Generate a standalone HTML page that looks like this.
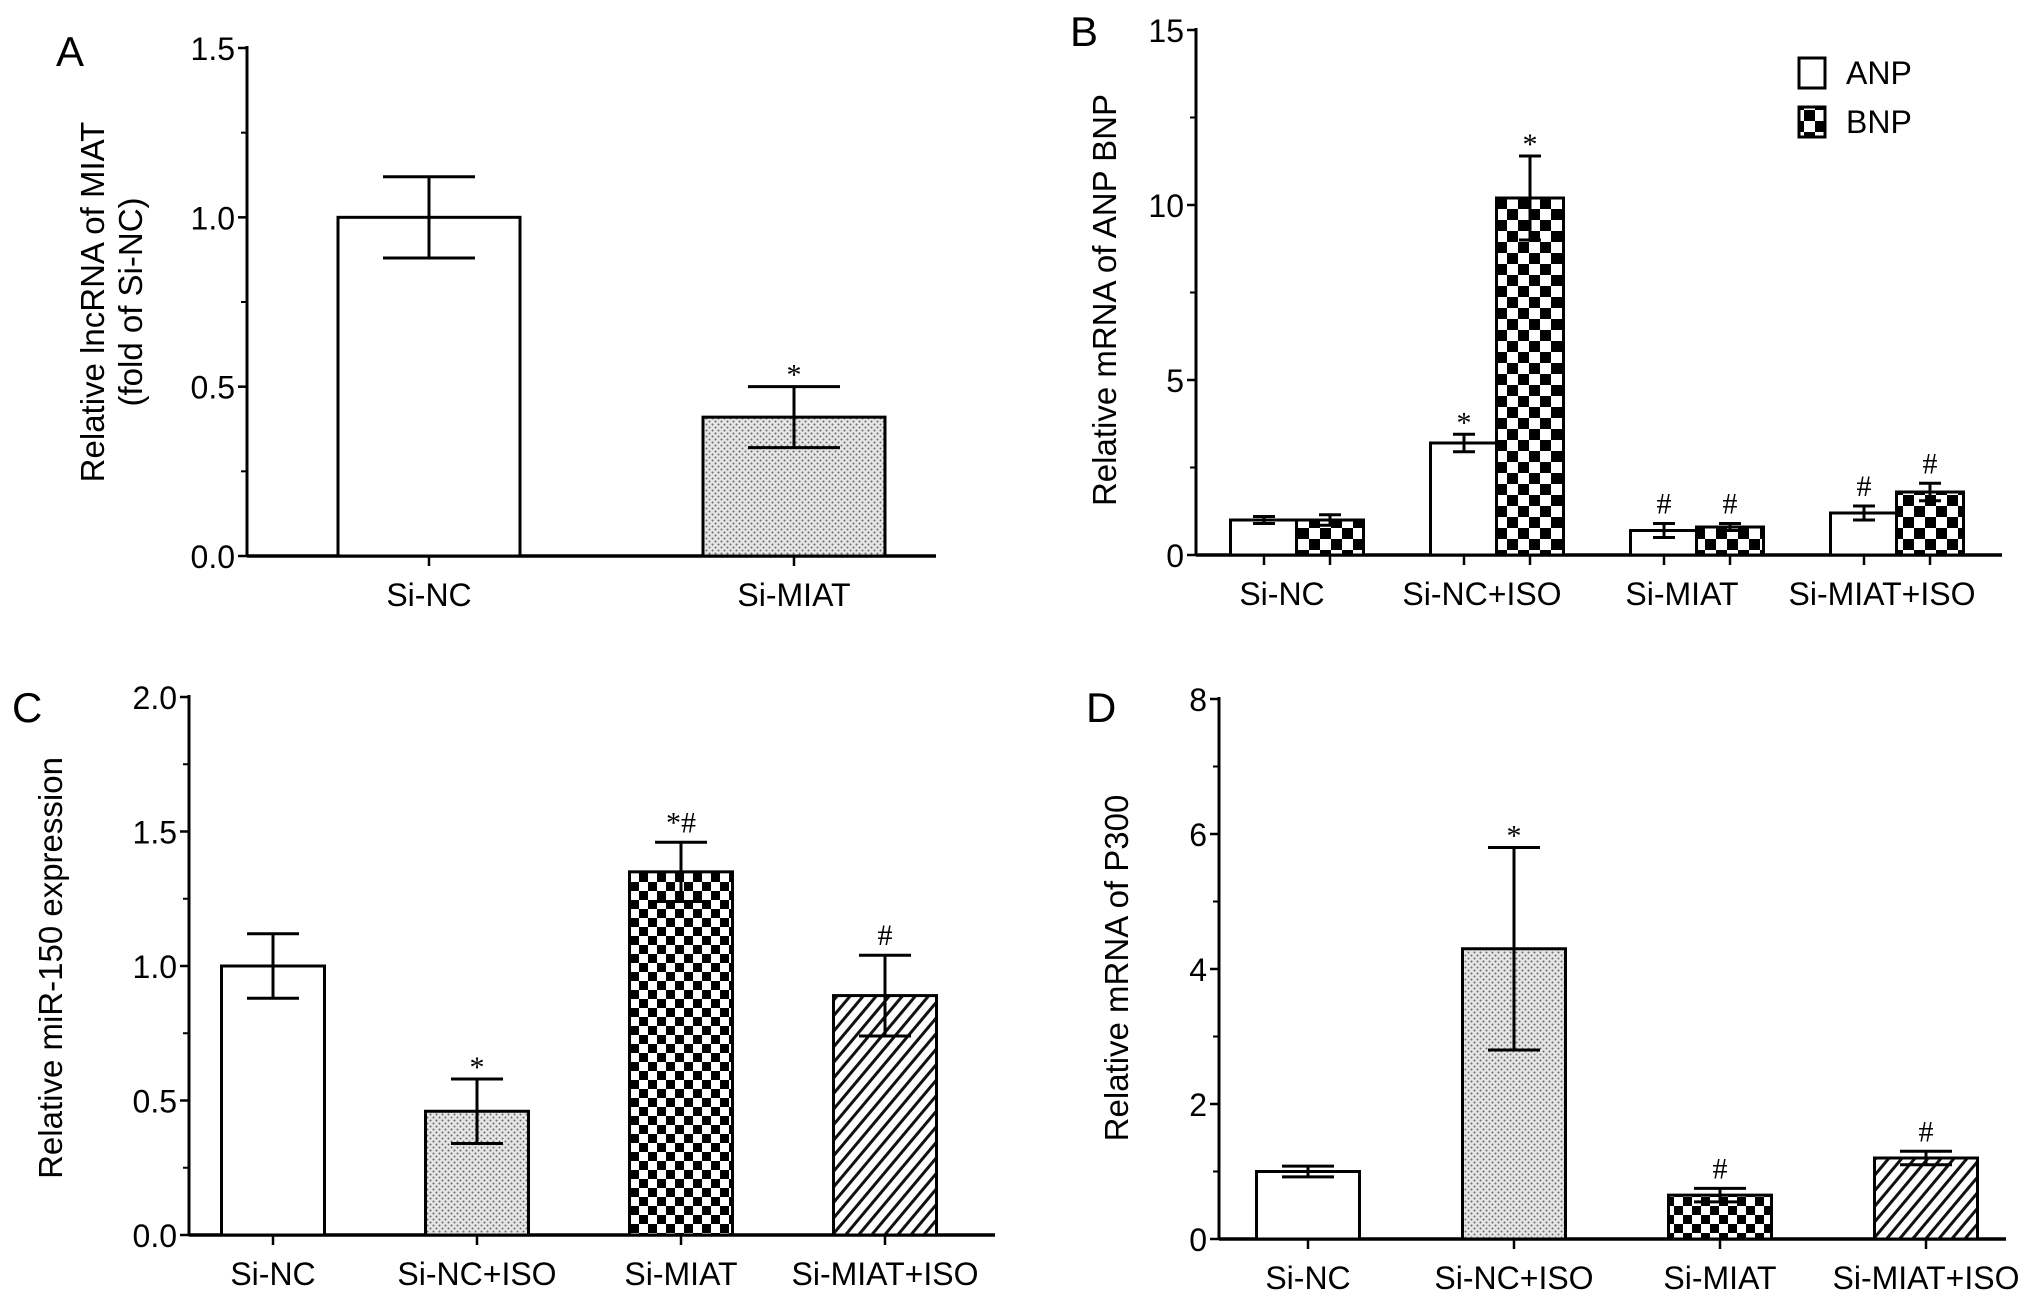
<!DOCTYPE html>
<html><head><meta charset="utf-8"><style>
html,body{margin:0;padding:0;background:#fff;}
svg{display:block;font-family:"Liberation Sans",Arial,sans-serif;}
</style></head><body>
<svg id="fig" width="2032" height="1296" viewBox="0 0 2032 1296" xmlns="http://www.w3.org/2000/svg">
<defs>
<pattern id="dots" width="6" height="6" patternUnits="userSpaceOnUse"><rect width="6" height="6" fill="#e6e6e6"/><circle cx="1.5" cy="1.5" r="1" fill="#666"/><circle cx="4.5" cy="4.5" r="1" fill="#666"/></pattern>
<pattern id="checkB" width="22" height="22" patternUnits="userSpaceOnUse"><rect width="22" height="22" fill="#fff"/><rect width="11" height="11" fill="#000"/><rect x="11" y="11" width="11" height="11" fill="#000"/></pattern>
<pattern id="checkC" width="18" height="18" patternUnits="userSpaceOnUse"><rect width="18" height="18" fill="#fff"/><rect width="9" height="9" fill="#000"/><rect x="9" y="9" width="9" height="9" fill="#000"/></pattern>
<pattern id="hatch" width="10" height="10" patternUnits="userSpaceOnUse" patternTransform="rotate(40)"><rect width="10" height="10" fill="#fff"/><rect width="3" height="10" fill="#111"/></pattern>
</defs>
<g id="root"></g>
</svg>
<script>
// Panel A
const catsA = ["Si-NC","Si-MIAT"];
const valsA = [1.0, 0.41];
const errA = [0.12, 0.09];
const annA = ["", "*"];
const ticksA = ["0.0","0.5","1.0","1.5"];
// Panel B
const catsB = ["Si-NC","Si-NC+ISO","Si-MIAT","Si-MIAT+ISO"];
const anpB = [1.0, 3.2, 0.7, 1.2];
const anpErrB = [0.1, 0.25, 0.2, 0.2];
const anpAnnB = ["", "*", "#", "#"];
const bnpB = [1.0, 10.2, 0.8, 1.8];
const bnpErrB = [0.15, 1.2, 0.1, 0.25];
const bnpAnnB = ["", "*", "#", "#"];
const ticksB = ["0","5","10","15"];
// Panel C
const catsC = ["Si-NC","Si-NC+ISO","Si-MIAT","Si-MIAT+ISO"];
const valsC = [1.0, 0.46, 1.35, 0.89];
const errC = [0.12, 0.12, 0.11, 0.15];
const annC = ["", "*", "*#", "#"];
const ticksC = ["0.0","0.5","1.0","1.5","2.0"];
// Panel D
const catsD = ["Si-NC","Si-NC+ISO","Si-MIAT","Si-MIAT+ISO"];
const valsD = [1.0, 4.3, 0.65, 1.2];
const errD = [0.08, 1.5, 0.1, 0.1];
const annD = ["", "*", "#", "#"];
const ticksD = ["0","2","4","6","8"];

const NS="http://www.w3.org/2000/svg";
const root=document.getElementById('root');
function mk(tag,attrs,parent,text){const e=document.createElementNS(NS,tag);for(const k in attrs)e.setAttribute(k,attrs[k]);if(text!==undefined)e.textContent=text;(parent||root).appendChild(e);return e;}

function panel(o){
  const g=mk('g',{});
  
  
  const ymax=parseFloat(o.ticks[o.ticks.length-1]);
  const Y=v=>o.y0-(v/ymax)*(o.y0-o.y1);
  const X=i=>o.xs+o.step*i;
  const L=mk('text',{x:o.lx,y:o.ly,'font-size':42},g,o.id);
  
  
  const ya=mk('line',{x1:o.ax,y1:o.y1-2,x2:o.ax,y2:o.y0,stroke:'#000','stroke-width':3},g);
  
  
  const xa=mk('line',{x1:o.ax,y1:o.y0,x2:o.axEnd,y2:o.y0,stroke:'#000','stroke-width':3.5},g);
  
  
  o.ticks.forEach((t,i)=>{
    const v=parseFloat(t),y=Y(v);
    mk('line',{x1:o.ax-9,y1:y,x2:o.ax,y2:y,stroke:'#000','stroke-width':2.5},g);
    const tl=mk('text',{x:o.ax-12,y:y+12,'font-size':32,'text-anchor':'end'},g,t);
    
    
    if(i<o.ticks.length-1){const m=(v+parseFloat(o.ticks[i+1]))/2;mk('line',{x1:o.ax-6,y1:Y(m),x2:o.ax,y2:Y(m),stroke:'#000','stroke-width':2},g);}
  });
  const yt=mk('text',{x:0,y:0,'font-size':33,'text-anchor':'middle',transform:`translate(${o.ytx},${o.yty}) rotate(-90)`},g);
  
  
  o.ytitle.forEach((s,i)=>{mk('tspan',{x:0,dy:i?38:0},yt,s);});
  o.cats.forEach((c,i)=>{
    const cl=mk('text',{x:X(i)+(o.lo||0),y:o.y0+50,'font-size':32,'text-anchor':'middle'},g,c);
    
    
  });
  o.series.forEach(s=>{
    s.vals.forEach((v,i)=>{
      const cx=X(i)+s.off, x=cx-o.bw/2, y=Y(v);
      const b=mk('rect',{x:x,y:y,width:o.bw,height:o.y0-y,fill:s.fills[i],stroke:'#000','stroke-width':3},g);
      
      
      mk('line',{x1:cx,y1:o.y0,x2:cx,y2:o.y0+10,stroke:'#000','stroke-width':2.5},g);
      const e=s.err[i], yt2=Y(v+e), yb=Y(v-e), cw=o.cap;
      const eb=mk('path',{d:`M${cx},${yt2}V${yb}M${cx-cw},${yt2}H${cx+cw}M${cx-cw},${yb}H${cx+cw}`,stroke:'#000','stroke-width':3,fill:'none'},g);
      
      
      if(s.ann[i]){
        const an=mk('text',{x:cx,y:s.ann[i]=='*'?yt2-2:yt2-10,'font-size':30,'text-anchor':'middle','font-family':'"Liberation Serif",serif'},g,s.ann[i]);
        
        
      }
    });
  });
}

panel({id:'A',lx:56,ly:66,ax:247,axEnd:936,y0:556,y1:48,ticks:ticksA,cats:catsA,xs:429,step:365,bw:182,cap:46,
  ytx:104,yty:302,ytitle:["Relative lncRNA of MIAT","(fold of Si-NC)"],
  series:[{vals:valsA,err:errA,ann:annA,off:0,fills:['#fff','url(#dots)']}]});
panel({id:'B',lx:1070,ly:46,ax:1196,axEnd:2002,y0:555,y1:30,ticks:ticksB,cats:catsB,xs:1297,step:200,bw:67,cap:11,lo:-15,
  ytx:1116,yty:300,ytitle:["Relative mRNA of ANP BNP"],
  series:[{name:'anp',vals:anpB,err:anpErrB,ann:anpAnnB,off:-33,fills:['#fff','#fff','#fff','#fff']},
          {name:'bnp',vals:bnpB,err:bnpErrB,ann:bnpAnnB,off:33,fills:['url(#checkB)','url(#checkB)','url(#checkB)','url(#checkB)']}]});
panel({id:'C',lx:12,ly:722,ax:189,axEnd:995,y0:1235,y1:697,ticks:ticksC,cats:catsC,xs:273,step:204,bw:103,cap:26,
  ytx:62,yty:968,ytitle:["Relative miR-150 expression"],
  series:[{vals:valsC,err:errC,ann:annC,off:0,fills:['#fff','url(#dots)','url(#checkC)','url(#hatch)']}]});
panel({id:'D',lx:1086,ly:722,ax:1219,axEnd:2006,y0:1239,y1:699,ticks:ticksD,cats:catsD,xs:1308,step:206,bw:103,cap:26,
  ytx:1128,yty:968,ytitle:["Relative mRNA of P300"],
  series:[{vals:valsD,err:errD,ann:annD,off:0,fills:['#fff','url(#dots)','url(#checkC)','url(#hatch)']}]});

const lg=mk('g',{});


const e1=mk('g',{},lg);


mk('rect',{x:1799,y:58,width:26,height:30,fill:'#fff',stroke:'#000','stroke-width':3},e1);
mk('text',{x:1846,y:84,'font-size':32},e1,'ANP');
const e2=mk('g',{},lg);


mk('rect',{x:1799,y:107,width:26,height:30,fill:'url(#checkB)',stroke:'#000','stroke-width':3},e2);
mk('text',{x:1846,y:133,'font-size':32},e2,'BNP');
</script>
</body></html>
